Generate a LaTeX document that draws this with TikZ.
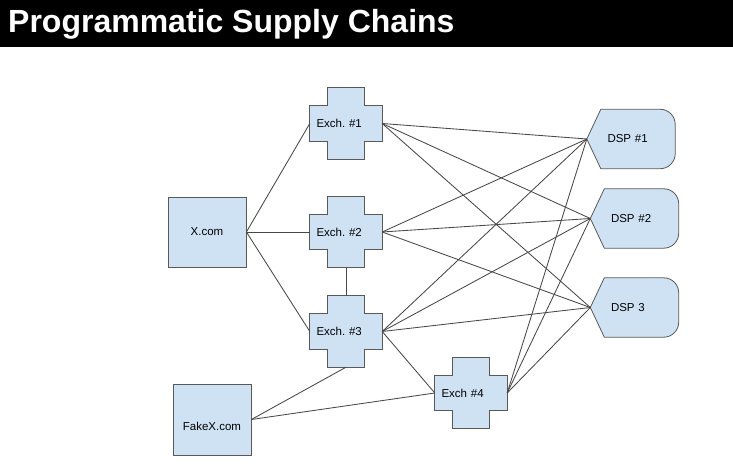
\documentclass[tikz,border=0pt]{standalone}
\usepackage{fontspec}
\setmainfont{Liberation Sans}
\usetikzlibrary{backgrounds}
\definecolor{boxfill}{HTML}{CFE2F3}
\definecolor{boxline}{HTML}{595959}
\definecolor{linkgray}{HTML}{484848}
\tikzstyle{labelsty}=[font=\fontsize{11.5}{13}\selectfont\frenchspacing]
\tikzstyle{shapesty}=[draw=boxline, fill=boxfill, line width=0.8pt]
\tikzstyle{site}=[shapesty, labelsty, minimum width=78pt, minimum height=70pt, inner sep=0pt]
\tikzstyle{exch}=[labelsty, minimum width=72pt, minimum height=71pt, inner xsep=6.5pt, inner ysep=0pt, text width=59pt, align=left]
\tikzstyle{dsp}=[labelsty, minimum width=88pt, minimum height=59pt, inner xsep=20.5pt, inner ysep=0pt, text width=47pt, align=left]
\tikzstyle{link}=[draw=linkgray, line width=0.85pt]

\begin{document}
\begin{tikzpicture}[x=1pt,y=1pt]
	\useasboundingbox (0,0) rectangle (733,463);
	
	% title bar
	\fill[black] (0,416) rectangle (733,463);
	\node[anchor=base west, inner sep=0pt, text=white, font=\fontsize{32}{36}\selectfont\bfseries] (title) at (8,430) {Programmatic Supply Chains};
	
	\node[site] (xc) at (207,231) {X.com};
	\node[site, minimum height=71pt, text height=22pt] (fx) at (212,43.5) {FakeX.com};
	
	\node[exch] (e1) at (346,339.5) {Exch. \#1};
	\node[exch] (e2) at (346,231) {Exch. \#2};
	\node[exch] (e3) at (346,131.5) {Exch. \#3};
	\node[exch] (e4) at (471,70) {Exch \#4};
	
	\node[dsp] (d1) at (631,324) {DSP \#1};
	\node[dsp] (d2) at (634.5,244.5) {DSP \#2};
	\node[dsp] (d3) at (634.5,155.5) {DSP 3};
	
	\begin{scope}[on background layer]
		\foreach \n in {e1,e2,e3,e4}
			\draw[shapesty] ([xshift=18pt]\n.north west) -- ([xshift=-18pt]\n.north east) -- ([xshift=-18pt,yshift=-18pt]\n.north east) -- ([yshift=-18pt]\n.north east) -- ([yshift=18pt]\n.south east) -- ([xshift=-18pt,yshift=18pt]\n.south east) -- ([xshift=-18pt]\n.south east) -- ([xshift=18pt]\n.south west) -- ([xshift=18pt,yshift=18pt]\n.south west) -- ([yshift=18pt]\n.south west) -- ([yshift=-18pt]\n.north west) -- ([xshift=18pt,yshift=-18pt]\n.north west) -- cycle;
		\foreach \n in {d1,d2,d3}
			\draw[shapesty] (\n.west) -- ([xshift=14pt]\n.north west) -- ([xshift=-15pt]\n.north east) arc[start angle=90,end angle=0,radius=15pt] -- ([yshift=15pt]\n.south east) arc[start angle=0,end angle=-90,radius=15pt] -- ([xshift=14pt]\n.south west) -- cycle;
	\end{scope}
	
	\draw[link] (xc.east) edge (e1.west) edge (e2.west) edge (e3.west);
	\draw[link] (e2.south) -- (e3.north);
	\draw[link] (e1.east) edge (d1.west) edge (d2.west) edge (d3.west);
	\draw[link] (e2.east) edge (d1.west) edge (d2.west) edge (d3.west);
	\draw[link] (e3.east) edge (d1.west) edge (d2.west) edge (d3.west);
	\draw[link] (e3.east) -- (e4.west);
	\draw[link] (e4.east) edge (d1.west) edge (d2.west) edge (d3.west);
	\draw[link] (fx.east) edge (e3.south) edge (e4.west);
\end{tikzpicture}
\end{document}
